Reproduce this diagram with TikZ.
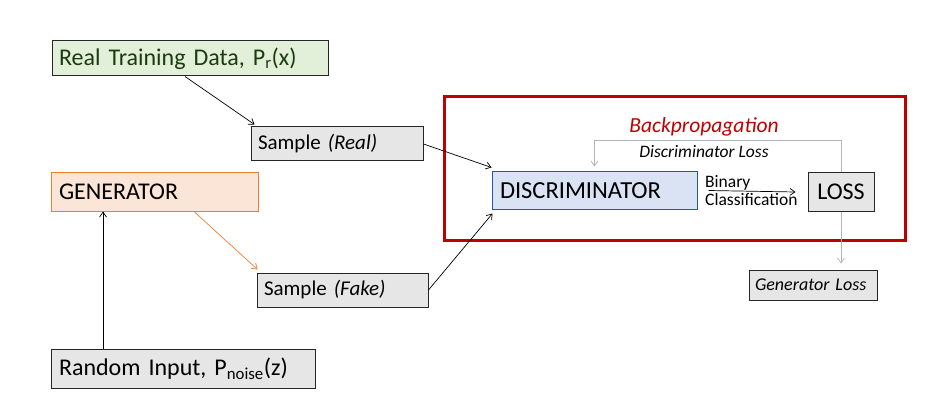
\documentclass[tikz,border=0pt]{standalone}
\usepackage{fontspec}
\setmainfont{Carlito}
\usetikzlibrary{arrows.meta}
\definecolor{greenfill}{HTML}{E2F0D9}
\definecolor{greentext}{HTML}{1E3A10}
\definecolor{grayfill}{HTML}{E7E6E6}
\definecolor{orangefill}{HTML}{FBE5D6}
\definecolor{orangeline}{HTML}{ED7D31}
\definecolor{bluefill}{HTML}{DAE3F3}
\definecolor{blueline}{HTML}{2F5597}
\definecolor{darkred}{HTML}{C00000}
\definecolor{fbgray}{HTML}{B4B4B4}
\newcommand{\fs}[1]{\fontsize{#1}{#1}\selectfont}
\tikzset{
  box/.style={draw=black!85, line width=1pt, rectangle, inner xsep=0pt, inner ysep=0pt, align=left},
  graybox/.style={box, fill=grayfill},
  arr/.style={-{Straight Barb[length=5pt,width=7pt]}, line width=0.7pt},
}
\begin{document}
\begin{tikzpicture}[x=1pt,y=-1pt]
\useasboundingbox (0,0) rectangle (936,414);
% red frame
\node[draw=darkred, line width=3pt, minimum width=461pt, minimum height=143pt, inner sep=0pt] (frame) at (674.5,168.5) {};
% nodes
\node[box, fill=greenfill, text=greentext, minimum width=276pt, minimum height=35pt, text width=262pt, font=\fs{24}] (real) at (190,58.5) {Real Training Data, P\textsubscript{r}(x)};
\node[graybox, minimum width=172pt, minimum height=34pt, text width=158pt, font=\fs{21}] (sreal) at (337,144) {Sample \textit{(Real)}};
\node[box, draw=orangeline, fill=orangefill, minimum width=207pt, minimum height=38pt, text width=191pt, font=\fs{24}] (gen) at (154.5,192) {GENERATOR};
\node[graybox, minimum width=171pt, minimum height=34pt, text width=157pt, font=\fs{21}] (sfake) at (342.5,290) {Sample \textit{(Fake)}};
\node[graybox, minimum width=264pt, minimum height=39pt, text width=248pt, font=\fs{24}] (rand) at (183,368.5) {Random Input, P\textsubscript{noise}(z)};
\node[box, draw=blueline, fill=bluefill, minimum width=205pt, minimum height=37pt, text width=189pt, font=\fs{24.5}] (disc) at (594.5,190.5) {DISCRIMINATOR};
\node[graybox, minimum width=66pt, minimum height=38pt, font=\fs{24}, align=center] (loss) at (841,192) {LOSS};
\node[graybox, minimum width=128pt, minimum height=30pt, text width=116pt, font=\fs{18}\itshape] (gloss) at (813,285) {Generator Loss};
% labels
\node[text=darkred, font=\fs{21.5}\itshape] (bp) at (704,127) {Backpropagation};
\node[font=\fs{17.5}\itshape] (dl) at (704,152) {Discriminator Loss};
\node[anchor=base west, inner sep=0pt, font=\fs{17.5}] (bin) at (705,187) {Binary};
\node[anchor=base west, inner sep=0pt, font=\fs{17.5}] (cls) at (705,205) {Classification};
% connectors
\coordinate (gx) at (103,0);
\draw[arr] ([xshift=-5pt]real.south) -- ([xshift=4pt,yshift=2pt]sreal.north west);
\draw[arr] (sreal.east) -- ([yshift=4pt]disc.north west);
\draw[arr] (sfake.east) -- ([xshift=1pt,yshift=-4pt]disc.south west);
\draw[arr, orangeline] ([xshift=39.5pt]gen.south) -- ([xshift=1pt,yshift=3pt]sfake.north west);
\draw[arr] (rand.north -| gx) -- (gen.south -| gx);
\draw[arr] ([xshift=11pt]disc.east) -- ([xshift=-12pt]loss.west);
\draw[arr, fbgray] (loss.north) -- ++(0,-32) -| ([yshift=5pt]disc.north);
\coordinate (gtop) at ([yshift=6pt]gloss.north);
\draw[arr, fbgray] (loss.south) -- (loss.south |- gtop);
\end{tikzpicture}
\end{document}
